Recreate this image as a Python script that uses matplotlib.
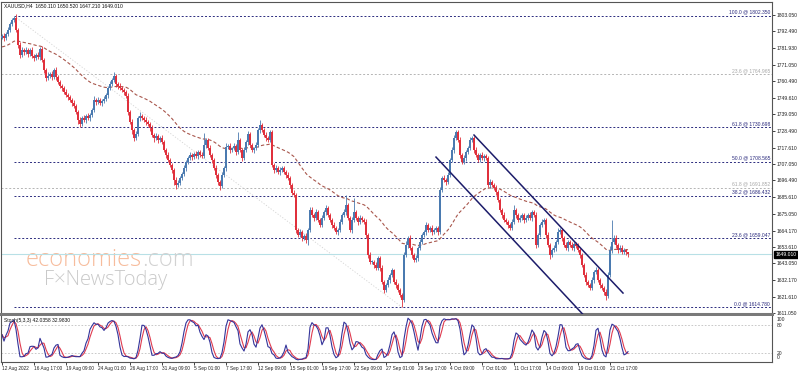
import numpy as np
import pandas as pd
import matplotlib
matplotlib.use("Agg")
import matplotlib.pyplot as plt
from matplotlib.transforms import blended_transform_factory

# ---------------- data ----------------
symbol_title = "XAUUSD,H4  1650.110 1650.520 1647.210 1649.010"
stoch_title = "Stoch(5,3,3) 42.0358 32.9830"

prior_closes = [1771.5, 1773.0, 1770.8, 1774.2, 1776.5, 1775.0, 1777.8, 1779.5, 1778.2, 1780.0,
                1782.4, 1781.0, 1779.6, 1783.5, 1785.0, 1783.2, 1781.8, 1784.6, 1786.0, 1784.5,
                1782.8, 1780.6, 1779.0, 1781.5, 1783.9, 1785.8, 1787.2, 1786.1, 1788.5]

closes = [
    1789.5, 1788.2, 1790.8, 1793.4, 1797.2, 1799.8, 1801.1, 1793.4, 1783.7, 1777.3,
    1780.5, 1779.2, 1780.5, 1777.9, 1780.5, 1776.6, 1775.3, 1777.3, 1776.0, 1781.1,
    1774.0, 1767.6, 1762.4, 1763.7, 1765.0, 1763.1, 1767.6, 1763.1, 1759.9, 1757.3,
    1756.0, 1753.4, 1751.5, 1750.2, 1748.3, 1746.3, 1744.4, 1740.5, 1735.4, 1732.8,
    1736.7, 1735.4, 1738.0, 1736.7, 1738.6, 1741.8, 1748.3, 1747.0, 1748.3, 1746.3,
    1747.6, 1748.9, 1751.5, 1756.0, 1758.6, 1761.2, 1763.7, 1758.6, 1757.3, 1756.0,
    1754.7, 1753.4, 1750.9, 1740.5, 1734.1, 1728.9, 1723.8, 1726.4, 1736.7, 1738.0,
    1736.7, 1735.4, 1734.1, 1732.8, 1730.2, 1725.7, 1723.8, 1725.1, 1722.5, 1723.8,
    1721.2, 1716.1, 1712.8, 1709.6, 1706.4, 1703.2, 1696.7, 1693.5, 1694.8, 1698.0,
    1700.6, 1704.5, 1708.3, 1710.9, 1712.8, 1711.5, 1713.5, 1712.2, 1714.8, 1712.8,
    1712.2, 1719.3, 1722.5, 1717.3, 1712.8, 1709.6, 1704.5, 1700.0, 1695.4, 1692.9,
    1700.0, 1704.5, 1718.0, 1718.6, 1716.1, 1717.3, 1718.6, 1714.8, 1722.5, 1716.1,
    1710.9, 1716.1, 1721.2, 1726.4, 1719.3, 1716.1, 1717.3, 1719.3, 1728.9, 1732.2,
    1728.9, 1725.7, 1723.8, 1722.5, 1727.7, 1706.4, 1703.2, 1704.5, 1701.9, 1703.2,
    1704.5, 1701.9, 1700.0, 1698.0, 1693.5, 1688.4, 1687.1, 1664.5, 1661.3, 1663.2,
    1659.4, 1660.6, 1658.1, 1664.5, 1677.4, 1674.2, 1672.2, 1676.1, 1671.0, 1667.7,
    1672.2, 1676.1, 1678.7, 1674.2, 1671.0, 1667.7, 1665.8, 1663.2, 1664.5, 1669.7,
    1674.2, 1676.1, 1680.6, 1672.2, 1664.5, 1671.0, 1676.1, 1672.2, 1669.7, 1672.2,
    1671.0, 1669.7, 1661.3, 1648.4, 1643.9, 1643.9, 1642.0, 1640.0, 1646.5, 1640.0,
    1631.0, 1625.9, 1629.1, 1632.3, 1635.5, 1638.7, 1631.0, 1629.1, 1625.9, 1622.6,
    1619.4, 1648.4, 1654.8, 1659.4, 1652.9, 1648.4, 1645.2, 1646.5, 1652.9, 1656.8,
    1661.3, 1663.2, 1667.7, 1664.5, 1665.8, 1663.2, 1664.5, 1665.8, 1663.2, 1690.3,
    1698.0, 1696.7, 1695.4, 1700.0, 1709.6, 1716.1, 1723.8, 1727.7, 1722.5, 1712.8,
    1708.3, 1710.9, 1714.8, 1717.3, 1722.5, 1723.8, 1716.1, 1712.8, 1709.6, 1712.8,
    1710.9, 1712.2, 1710.9, 1693.5, 1695.4, 1693.5, 1691.6, 1689.0, 1683.8, 1677.4,
    1674.2, 1671.0, 1669.7, 1667.7, 1665.8, 1669.7, 1677.4, 1674.2, 1671.0, 1672.2,
    1674.2, 1671.0, 1672.2, 1674.2, 1672.2, 1676.1, 1674.2, 1654.8, 1661.3, 1667.7,
    1669.7, 1671.0, 1661.3, 1654.8, 1648.4, 1651.6, 1652.9, 1656.8, 1663.2, 1664.5,
    1659.4, 1654.8, 1652.9, 1656.8, 1654.8, 1652.9, 1655.5, 1654.2, 1651.6, 1648.4,
    1642.0, 1635.5, 1631.0, 1629.1, 1627.1, 1632.3, 1637.5, 1638.7, 1632.3, 1629.1,
    1627.1, 1624.6, 1622.0, 1635.5, 1651.6, 1656.8, 1659.4, 1654.8, 1651.6, 1652.9,
    1650.3, 1651.6, 1650.1, 1649.01,
]

upper_wick = [
    1.5, 2.0, 1.2, 1.8, 1.0, 1.5, 1.25, 2.5, 1.5, 2.0,
    1.8, 1.2, 2.0, 1.5, 1.0, 2.2, 1.5, 1.2, 1.8, 1.0,
    2.0, 1.5, 1.2, 2.5, 1.5, 2.0, 1.0, 1.8, 1.2, 1.5,
    1.0, 1.5, 2.0, 1.2, 1.5, 1.0, 1.8, 1.2, 1.5, 2.0,
    1.5, 2.0, 1.2, 1.8, 1.0, 1.5, 2.5, 1.2, 2.0, 1.5,
    1.2, 1.8, 1.5, 1.0, 2.0, 1.5, 2.5, 1.2, 1.5, 1.8,
    1.0, 1.5, 1.2, 2.0, 1.5, 1.8, 1.2, 2.0, 1.5, 2.5,
    1.5, 1.2, 2.0, 1.0, 1.5, 1.8, 1.2, 2.0, 1.5, 1.0,
    1.8, 1.5, 1.2, 2.0, 1.0, 1.5, 1.2, 1.8, 2.0, 1.5,
    1.2, 1.8, 1.5, 1.0, 2.0, 1.5, 1.2, 1.8, 1.0, 1.5,
    2.0, 7.5, 1.5, 1.2, 2.0, 1.5, 1.0, 1.8, 1.2, 1.5,
    2.0, 1.5, 2.5, 1.2, 1.8, 1.0, 2.0, 1.5, 5.0, 1.5,
    1.2, 2.0, 1.5, 1.8, 1.2, 1.5, 1.0, 2.0, 1.5, 3.2,
    1.5, 1.2, 1.8, 1.0, 1.5, 1.5, 1.2, 2.0, 1.5, 1.8,
    1.2, 1.5, 1.0, 1.8, 1.2, 1.5, 2.0, 1.5, 1.2, 1.8,
    1.5, 1.2, 2.0, 1.5, 2.0, 1.8, 1.5, 2.0, 1.2, 1.5,
    1.8, 1.5, 2.0, 1.2, 1.5, 1.0, 1.8, 1.2, 1.5, 2.0,
    1.5, 1.8, 6.5, 1.2, 1.5, 2.0, 9.0, 1.5, 1.2, 1.8,
    1.5, 1.2, 2.0, 1.5, 1.8, 1.2, 1.5, 2.0, 1.2, 1.5,
    1.8, 1.2, 1.5, 2.0, 1.2, 1.5, 1.0, 1.8, 1.2, 1.5,
    1.2, 2.0, 2.5, 1.5, 1.8, 1.2, 1.5, 2.0, 1.5, 1.8,
    1.5, 1.2, 2.0, 1.5, 1.0, 1.8, 1.2, 1.5, 1.2, 2.0,
    1.5, 1.8, 1.2, 2.0, 1.5, 1.8, 2.0, 1.5, 1.2, 1.8,
    1.5, 2.0, 1.2, 1.5, 1.8, 1.5, 1.2, 2.0, 1.5, 1.2,
    1.8, 1.5, 1.2, 1.5, 2.0, 1.2, 1.5, 1.8, 1.2, 1.5,
    1.2, 1.8, 1.5, 1.2, 1.5, 2.0, 3.5, 1.5, 1.2, 1.8,
    1.5, 1.2, 2.0, 1.5, 1.8, 1.2, 1.5, 2.0, 1.2, 1.5,
    1.8, 1.5, 1.2, 2.0, 1.5, 1.2, 1.8, 1.5, 2.5, 1.5,
    1.2, 1.5, 1.8, 1.2, 1.5, 2.0, 1.2, 1.5, 1.8, 1.2,
    1.5, 1.2, 1.8, 1.5, 1.2, 2.0, 1.5, 1.8, 1.2, 1.5,
    1.2, 1.5, 1.8, 2.0, 2.5, 14.0, 1.8, 2.0, 1.5, 2.2,
    1.8, 1.5, 0.4, 0.4,
]

lower_wick = [
    1.2, 1.8, 1.5, 1.0, 1.5, 1.2, 1.0, 1.5, 2.0, 1.8,
    1.5, 2.0, 1.2, 1.8, 1.5, 1.2, 2.0, 1.5, 1.0, 1.8,
    1.5, 2.0, 1.8, 1.2, 1.5, 1.8, 1.2, 2.0, 1.5, 1.2,
    1.8, 1.5, 1.2, 2.0, 1.5, 1.8, 1.2, 1.5, 2.5, 2.0,
    1.5, 1.2, 1.8, 1.5, 2.0, 1.2, 1.5, 1.8, 1.2, 1.5,
    2.0, 1.5, 1.2, 1.8, 1.5, 1.2, 1.5, 2.0, 1.8, 1.2,
    1.5, 1.8, 1.2, 2.0, 1.5, 2.5, 2.0, 1.5, 1.2, 1.8,
    1.5, 1.2, 1.8, 1.5, 2.0, 1.5, 2.5, 1.2, 1.8, 1.5,
    1.2, 1.5, 1.8, 1.2, 1.5, 2.0, 3.0, 2.5, 1.5, 1.2,
    1.5, 1.2, 1.8, 1.5, 1.2, 2.0, 1.5, 1.2, 1.8, 1.5,
    1.2, 1.5, 1.8, 1.2, 1.5, 2.0, 1.5, 1.8, 2.0, 2.5,
    1.5, 1.2, 1.8, 1.5, 2.0, 1.2, 1.5, 1.8, 1.2, 1.5,
    2.0, 1.5, 1.2, 1.8, 1.5, 1.2, 2.0, 1.5, 1.2, 1.8,
    1.5, 1.2, 1.8, 1.5, 1.2, 1.5, 2.0, 1.5, 1.2, 1.8,
    1.5, 1.2, 1.8, 1.5, 2.0, 1.5, 1.2, 1.8, 1.5, 1.2,
    1.8, 1.5, 2.0, 3.3, 1.5, 1.2, 1.8, 1.5, 1.2, 1.5,
    1.2, 1.5, 1.8, 1.2, 1.5, 1.8, 1.2, 1.5, 2.0, 1.5,
    1.2, 1.5, 1.8, 1.2, 1.5, 2.0, 1.5, 1.2, 1.8, 1.5,
    1.2, 1.5, 1.8, 2.0, 1.5, 1.2, 1.8, 1.5, 1.2, 1.8,
    1.5, 1.8, 1.2, 1.5, 1.8, 1.2, 1.5, 1.8, 1.5, 1.2,
    4.6, 1.5, 1.2, 1.8, 1.5, 2.0, 1.5, 1.2, 1.8, 1.5,
    1.2, 1.5, 1.8, 1.2, 1.5, 1.8, 1.2, 1.5, 1.8, 1.2,
    1.5, 1.2, 1.8, 1.5, 1.2, 1.5, 1.8, 1.2, 1.5, 1.8,
    1.5, 1.2, 1.8, 1.5, 1.2, 1.5, 1.8, 1.2, 1.5, 1.2,
    1.5, 1.8, 1.2, 1.5, 1.8, 1.2, 1.5, 1.8, 1.2, 1.5,
    1.8, 1.2, 1.5, 1.8, 1.2, 1.5, 1.2, 1.8, 1.5, 1.2,
    1.5, 1.8, 1.2, 1.5, 1.2, 1.8, 1.5, 2.0, 1.5, 1.2,
    1.5, 1.2, 1.8, 1.5, 2.5, 1.2, 1.5, 1.8, 1.2, 1.5,
    1.8, 1.2, 1.5, 1.8, 1.2, 1.5, 1.8, 1.2, 1.5, 1.8,
    1.5, 1.2, 1.8, 1.5, 1.2, 1.5, 1.8, 1.2, 1.5, 2.0,
    1.5, 1.8, 2.6, 1.5, 1.2, 1.8, 1.5, 2.0, 1.8, 1.5,
    1.2, 1.5, 1.8, 1.8,
]

price_ticks = [1803.050, 1792.490, 1781.930, 1771.050, 1760.490, 1749.610, 1739.050,
               1728.490, 1717.610, 1707.050, 1696.490, 1685.610, 1675.050, 1664.170,
               1653.610, 1643.050, 1632.170, 1621.610, 1611.050]

time_labels = ["12 Aug 2022", "16 Aug 17:00", "19 Aug 09:00", "24 Aug 01:00", "26 Aug 17:00",
               "31 Aug 09:00", "5 Sep 01:00", "7 Sep 17:00", "12 Sep 09:00", "15 Sep 01:00",
               "19 Sep 17:00", "22 Sep 09:00", "27 Sep 01:00", "29 Sep 17:00", "4 Oct 09:00",
               "7 Oct 01:00", "11 Oct 17:00", "14 Oct 09:00", "19 Oct 01:00", "21 Oct 17:00"]
time_label_step = 16  # candles between labels

fib_main_pct = ["100.0", "61.8", "50.0", "38.2", "23.6", "0.0"]
fib_main_prices = [1802.350, 1730.698, 1708.565, 1686.432, 1659.047, 1614.780]
fib_main_anchor_idx = [6, 200]
fib_gray_pct = ["23.6", "61.8"]
fib_gray_prices = [1764.965, 1691.852]

channel_upper_idx = [236, 310.5]
channel_upper_price = [1725.7, 1623.9]
channel_lower_idx = [217, 300]
channel_lower_price = [1711.5, 1597.0]

current_price = 1649.010
ma_period = 50
stoch_k, stoch_d, stoch_slow = 5, 3, 3
stoch_levels = [20, 80]
stoch_axis_labels = ["100", "80", "20", "0"]

# ---------------- styling ----------------
W, H = 798, 372
bull = "#4a7ab0"
bear = "#e0303c"
navy = "#2b2b7e"
fib_gray = "#b4b4b4"
ma_col = "#a8564c"
FS = 3.6
SF = "Liberation Sans"
plt.rcParams['font.family'] = [SF, 'DejaVu Sans']

fig = plt.figure(figsize=(W / 100, H / 100), dpi=100)
fig.patch.set_facecolor("white")

def px_rect(x0, y0, x1, y1):
    return [x0 / W, 1 - y1 / H, (x1 - x0) / W, (y1 - y0) / H]

ax = fig.add_axes(px_rect(1, 2, 772, 314))
ax2 = fig.add_axes(px_rect(1, 316, 772, 362))

c = np.array(closes)
o = np.concatenate([[prior_closes[-1]], c[:-1]])
h = np.maximum(o, c) + np.array(upper_wick)
l = np.minimum(o, c) - np.array(lower_wick)
n = len(c)
idx = np.arange(n)
up = c >= o
cols = np.where(up, bull, bear)

# price panel
ax.set_xlim(-0.5, 385)
ax.set_ylim(1610.4, 1811.4)

# watermark
t1 = ax.text(12, 1645.5, "economies", color="#f7bc9c", fontsize=17, family="Open Sans",
             fontweight="light", ha="left", va="center", zorder=0)
fig.canvas.draw()
ext = t1.get_window_extent()
fig.text(ext.x1 / W, ext.y0 / H, ".com", color="#d2d2d2", fontsize=17, family="Open Sans",
         fontweight="light", ha="left", va="bottom", zorder=0)
ax.text(21, 1632.5, "F\u00d7NewsToday", color="#c9c9c9", fontsize=14.5, family="Open Sans",
        fontweight="light", ha="left", va="center", zorder=0)

# fib lines
for p in fib_gray_prices:
    ax.plot([-0.5, 385], [p, p], color=fib_gray, lw=0.7, ls=(0, (2, 2)), zorder=1)
for p in fib_main_prices:
    ax.plot([fib_main_anchor_idx[0], 385], [p, p], color=navy, lw=0.7, ls=(0, (2, 2)), zorder=1)
ax.plot(fib_main_anchor_idx, [fib_main_prices[0], fib_main_prices[-1]], color="#d4d4d4",
        lw=0.6, ls=(0, (1.5, 2)), zorder=1)
for lab, p in zip(fib_main_pct, fib_main_prices):
    ax.text(384, p + 0.8, f"{lab} @ {p:.3f}", color=navy, fontsize=FS, ha="right", va="bottom")
for lab, p in zip(fib_gray_pct, fib_gray_prices):
    ax.text(384, p + 0.8, f"{lab} @ {p:.3f}", color="#a8a8a8", fontsize=FS, ha="right", va="bottom")

# current price line
ax.axhline(current_price, color="#b8e0e6", lw=0.8, zorder=1)

# moving average (exponential)
full = pd.Series(np.concatenate([prior_closes, c]))
ma = full.ewm(span=ma_period, adjust=True).mean().values[len(prior_closes):]
ax.plot(idx, ma, color=ma_col, lw=0.8, ls=(0, (3, 2)), zorder=2)

# candles
ax.vlines(idx, l, h, colors=cols, lw=0.6, zorder=3)
body = np.maximum(np.abs(c - o), 0.35)
ax.bar(idx, body, bottom=np.minimum(o, c), width=0.85, color=cols, linewidth=0, zorder=3)

# channel
ax.plot(channel_upper_idx, channel_upper_price, color="#1c1c6a", lw=1.1, zorder=4)
ax.plot(channel_lower_idx, channel_lower_price, color="#1c1c6a", lw=1.1, zorder=4)

# axes styling
ax.yaxis.tick_right()
ax.set_yticks(price_ticks)
ax.set_yticklabels([f"{v:.3f}" for v in price_ticks])
ax.tick_params(axis="y", labelsize=FS, length=2, pad=1.5, width=0.6, colors="#222222")
ax.set_xticks([])
for s in ["left", "top", "right"]:
    ax.spines[s].set_color("#555555"); ax.spines[s].set_linewidth(0.8)
ax.spines["bottom"].set_color("#7a7a7a"); ax.spines["bottom"].set_linewidth(2.2)

trm = blended_transform_factory(ax.transAxes, ax.transData)
ax.text(0.004, 1809.0, symbol_title, transform=trm, fontsize=FS, color="#111111",
        ha="left", va="center")

# current price box
ax.text(1.0045, current_price, f"{current_price:.3f}", transform=trm, fontsize=FS, color="white",
        ha="left", va="center", bbox=dict(boxstyle="square,pad=0.2", fc="black", ec="black"),
        zorder=10, clip_on=False)

# stochastic
hs, ls_, cs = pd.Series(h), pd.Series(l), pd.Series(c)
ll = ls_.rolling(stoch_k, min_periods=1).min()
hh = hs.rolling(stoch_k, min_periods=1).max()
num = (cs - ll).rolling(stoch_slow, min_periods=1).sum()
den = (hh - ll).rolling(stoch_slow, min_periods=1).sum()
k = 100 * num / den
d = k.rolling(stoch_d, min_periods=1).mean()
ax2.set_xlim(-0.5, 385)
ax2.set_ylim(0, 100)
for lv in stoch_levels:
    ax2.axhline(lv, color="#c0c0c0", lw=0.6, ls=(0, (2, 2)))
ax2.plot(idx, d, color="#e03c50", lw=0.8)
ax2.plot(idx, k, color="#34349a", lw=0.8)
tr2 = blended_transform_factory(ax2.transAxes, ax2.transData)
ax2.text(0.004, 91, stoch_title, transform=tr2, fontsize=FS, color="#111111",
         ha="left", va="center")

ax2.set_yticks([])
for v, yy in zip(stoch_axis_labels, [93, 80, 19.5, 10.8]):
    ax2.text(1.006, yy, v, transform=tr2, fontsize=FS, ha="left", va="center", color="#222222")
ax2.set_xticks(np.arange(len(time_labels)) * time_label_step)
ax2.set_xticklabels(time_labels)
ax2.tick_params(axis="x", labelsize=3.4, length=2, pad=1.0, width=0.6, colors="#222222")
for lbl in ax2.get_xticklabels():
    lbl.set_ha("left")
for s in ["left", "right", "bottom"]:
    ax2.spines[s].set_color("#555555"); ax2.spines[s].set_linewidth(0.8)
ax2.spines["top"].set_visible(False)

fig.savefig("out.png", dpi=100)
